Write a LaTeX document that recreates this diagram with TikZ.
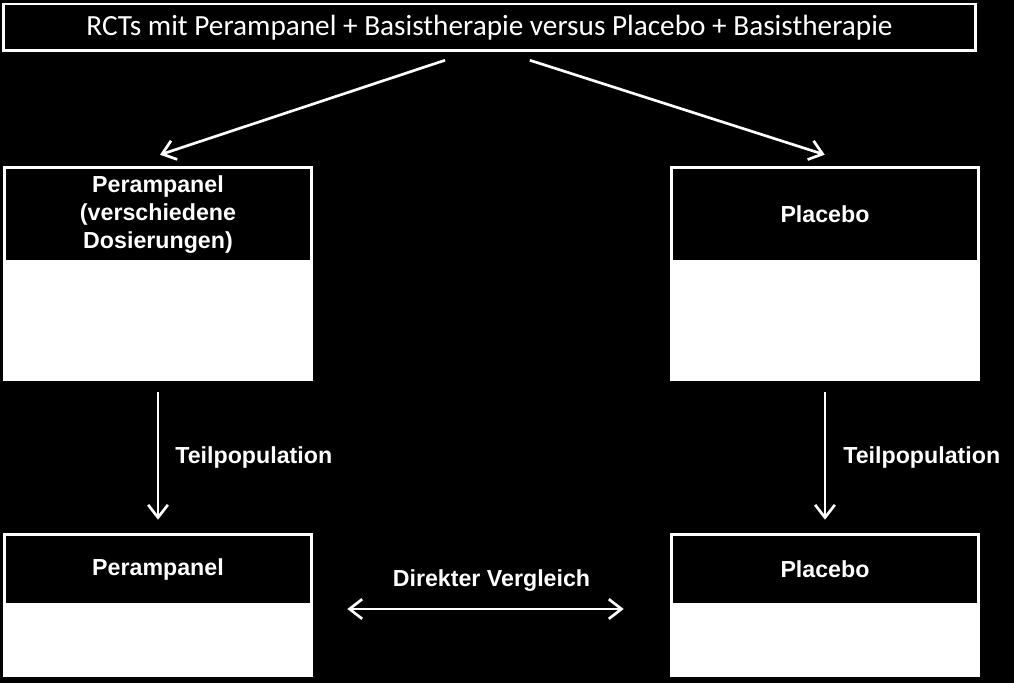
\documentclass[tikz,border=0pt]{standalone}
\usepackage{fontspec}
\setmainfont{Liberation Sans}
\newfontfamily\calfont{Carlito}
\usetikzlibrary{positioning, arrows.meta, calc}

\begin{document}
\begin{tikzpicture}[
    x=0.025cm, y=-0.025cm,
    every node/.style={font=\fontsize{16.5}{20}\selectfont\bfseries, text=white},
    box/.style={fill=white, minimum width=7.75cm, inner sep=0},
    hdr/.style={fill=black, minimum width=7.6cm, align=center, inner sep=0},
    lbl/.style={inner sep=0},
    arr/.style={white, line width=1.9pt, -{Straight Barb[length=9pt, width=14pt]}},
  ]
  % background
  \fill[black] (0,0) rectangle (1014,683);

  \node[draw=white, line width=2pt, fill=black, minimum width=24.3cm,
        minimum height=1.17cm, font=\calfont\fontsize{20.8}{25}\selectfont]
        (rct) at (489.5,27.5) {RCTs mit Perampanel + Basistherapie versus Placebo + Basistherapie};

  % arms
  \node[box, minimum height=5.375cm] (pera) at (158,273.5) {};
  \node[hdr, minimum height=2.275cm, anchor=north] (perahdr) at ([yshift=-0.075cm]pera.north)
    {Perampanel\\(verschiedene\\Dosierungen)};
  \node[box, minimum height=5.375cm] (plac) at (825,273.5) {};
  \node[hdr, minimum height=2.275cm, anchor=north] (plachdr) at ([yshift=-0.075cm]plac.north)
    {Placebo};

  % subpopulation
  \node[box, minimum height=3.6cm] (subpera) at (158,605) {};
  \node[hdr, minimum height=1.675cm, anchor=north] (subperahdr) at ([yshift=-0.075cm]subpera.north)
    {Perampanel};
  \node[box, minimum height=3.6cm] (subplac) at (825,605) {};
  \node[hdr, minimum height=1.675cm, anchor=north] (subplachdr) at ([yshift=-0.075cm]subplac.north)
    {Placebo};

  \draw[arr, shorten <=0.63cm, shorten >=0.87cm]
    ($(rct.south)+(-20.5,0)$) -- ($(pera.north)+(-31,0)$);
  \draw[arr, shorten <=0.65cm, shorten >=0.9cm]
    ($(rct.south)+(15.5,0)$) -- ($(plac.north)+(34,0)$);

  \draw[arr, shorten <=0.275cm, shorten >=0.325cm] (pera.south) -- (subpera.north)
    node[midway, right=0.4cm, lbl] {Teilpopulation};
  \draw[arr, shorten <=0.275cm, shorten >=0.325cm] (plac.south) -- (subplac.north)
    node[midway, right=0.425cm, lbl] {Teilpopulation};

  \draw[arr, {Straight Barb[length=9pt, width=14pt]}-{Straight Barb[length=9pt, width=14pt]},
        shorten <=0.85cm, shorten >=1.15cm]
    ([yshift=-0.1cm]subpera.east) -- ([yshift=-0.1cm]subplac.west)
    node[midway, yshift=0.7cm, lbl] {Direkter Vergleich};
\end{tikzpicture}
\end{document}
